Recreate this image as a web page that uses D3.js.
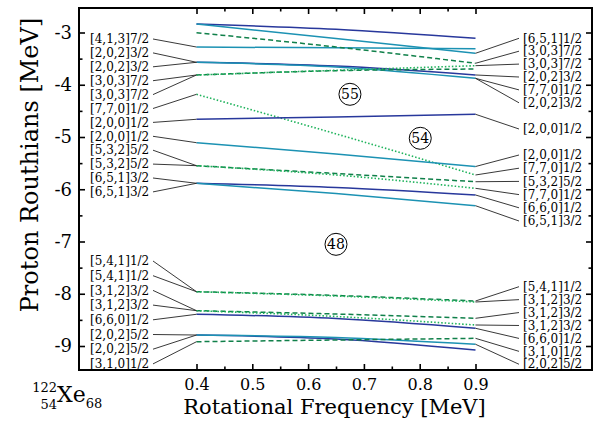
<!DOCTYPE html>
<html>
<head>
<meta charset="utf-8">
<script src="https://cdn.jsdelivr.net/npm/d3@7"></script>
<style>
  body { margin: 0; background: #fff; }
  text { font-family: 'DejaVu Serif', serif; fill: #000; }
</style>
</head>
<body>
<script>
// chart values
const omegaPts = [0.4, 0.65, 0.9];

const levelStyles = [
  'blue', 'teal', 'teal', 'dash', 'blue', 'teal', 'dash', 'dot',
  'dot', 'blue', 'teal', 'dash', 'dot', 'blue', 'teal',
  'dash', 'dot', 'dash', 'dot', 'blue', 'blue', 'teal', 'dash'
];

const levelValues = [
  [-2.837, -2.939, -3.111],
  [-2.837, -3.117, -3.398],
  [-3.278, -3.294, -3.309],
  [-3.004, -3.277, -3.589],
  [-3.570, -3.641, -3.813],
  [-3.570, -3.660, -3.877],
  [-3.813, -3.731, -3.699],
  [-3.813, -3.723, -3.635],
  [-4.183, -4.940, -5.727],
  [-4.661, -4.617, -4.565],
  [-5.109, -5.325, -5.565],
  [-5.549, -5.699, -5.856],
  [-5.549, -5.727, -5.982],
  [-5.886, -5.967, -6.110],
  [-5.886, -6.081, -6.315],
  [-7.961, -8.033, -8.139],
  [-7.961, -8.043, -8.158],
  [-8.324, -8.388, -8.470],
  [-8.324, -8.435, -8.598],
  [-8.393, -8.474, -8.661],
  [-8.790, -8.866, -9.077],
  [-8.790, -8.837, -8.967],
  [-8.918, -8.885, -8.853]
];

const leftLabels = [
  '[4,1,3]7/2', '[2,0,2]3/2', '[2,0,2]3/2', '[3,0,3]7/2', '[3,0,3]7/2', '[7,7,0]1/2',
  '[2,0,0]1/2', '[2,0,0]1/2', '[5,3,2]5/2', '[5,3,2]5/2', '[6,5,1]3/2', '[6,5,1]3/2',
  '[5,4,1]1/2', '[5,4,1]1/2', '[3,1,2]3/2', '[3,1,2]3/2', '[6,6,0]1/2', '[2,0,2]5/2',
  '[2,0,2]5/2', '[3,1,0]1/2'
];
const leftTargets = [2, 4, 5, 6, 7, 8, 9, 10, 11, 12, 13, 14, 15, 16, 17, 18, 19, 20, 21, 22];

const rightLabels = [
  '[6,5,1]1/2', '[3,0,3]7/2', '[3,0,3]7/2', '[2,0,2]3/2', '[7,7,0]1/2', '[2,0,2]3/2',
  '[2,0,0]1/2',
  '[2,0,0]1/2', '[7,7,0]1/2', '[5,3,2]5/2', '[7,7,0]1/2', '[6,6,0]1/2', '[6,5,1]3/2',
  '[5,4,1]1/2', '[3,1,2]3/2', '[3,1,2]3/2', '[3,1,2]3/2', '[6,6,0]1/2', '[3,1,0]1/2',
  '[2,0,2]5/2'
];
const rightTargets = [1, 3, 7, 4, 5, 5, 9, 10, 8, 11, 12, 13, 14, 15, 16, 17, 18, 19, 22, 21];

const shellGaps = ['55', '54', '48'];
const gapOmega = [0.675, 0.801, 0.650];
const gapEnergy = [-4.183, -5.025, -7.054];

const xTicks = [0.4, 0.5, 0.6, 0.7, 0.8, 0.9];
const xMinor = [0.45, 0.55, 0.65, 0.75, 0.85];
const yTicks = [-3, -4, -5, -6, -7, -8, -9];
const yMinor = [-3.5, -4.5, -5.5, -6.5, -7.5, -8.5];

// layout
const w = 598, h = 426;
const frame = { left: 79, right: 592, top: 8, bottom: 370 };

const colors = { blue: '#28389c', teal: '#1c92b3', dash: '#10804a', dot: '#1fb35c' };
const dashes = { blue: null, teal: null, dash: '5,3', dot: '1.5,2' };

// label slots: [start y px, step px, count]
const leftSlots = [[39, 13.9, 12], [261, 14.7, 8]];
const rightSlots = [[38.3, 12.9, 6], [129, 0, 1], [155, 13.2, 6], [286.7, 12.93, 7]];

function slotYs(slots) {
  const out = [];
  slots.forEach(([s, step, n]) => {
    for (let i = 0; i < n; i++) out.push(s + i * step);
  });
  return out;
}

const svg = d3.select('body').append('svg').attr('width', w).attr('height', h);

const x = d3.scaleLinear().domain([0.4, 0.9]).range([196.5, 475.5]);
const y = d3.scaleLinear().domain([-3, -9]).range([32.5, 346]);

// axes (ticks inward)
function tickAxis(axis, vals, size, fmt, pad) {
  return axis.tickValues(vals).tickSize(-size).tickPadding(pad || 6).tickFormat(fmt || '');
}

const axes = svg.append('g').attr('class', 'axes');

const xAxis = axes.append('g').attr('transform', `translate(0,${frame.bottom})`)
  .call(tickAxis(d3.axisBottom(x), xTicks, 6, d3.format('.1f'), 9));
axes.append('g').attr('transform', `translate(0,${frame.bottom})`)
  .call(tickAxis(d3.axisBottom(x), xMinor, 3.5));
axes.append('g').attr('transform', `translate(0,${frame.top})`)
  .call(tickAxis(d3.axisTop(x), xTicks, 6));
axes.append('g').attr('transform', `translate(0,${frame.top})`)
  .call(tickAxis(d3.axisTop(x), xMinor, 3.5));

const yAxis = axes.append('g').attr('transform', `translate(${frame.left},0)`)
  .call(tickAxis(d3.axisLeft(y), yTicks, 6, (d) => String(d), 7));
axes.append('g').attr('transform', `translate(${frame.left},0)`)
  .call(tickAxis(d3.axisLeft(y), yMinor, 3.5));
axes.append('g').attr('transform', `translate(${frame.right},0)`)
  .call(tickAxis(d3.axisRight(y), yTicks, 6));
axes.append('g').attr('transform', `translate(${frame.right},0)`)
  .call(tickAxis(d3.axisRight(y), yMinor, 3.5));

axes.selectAll('.domain').remove();
axes.selectAll('.tick line').attr('stroke', '#000').attr('stroke-width', 1.6);
axes.selectAll('.tick text')
  .style('font-family', "'DejaVu Serif', serif")
  .attr('fill', '#000');
xAxis.selectAll('.tick text').attr('font-size', 16);
yAxis.selectAll('.tick text').attr('font-size', 18);

svg.append('rect')
  .attr('x', frame.left).attr('y', frame.top)
  .attr('width', frame.right - frame.left).attr('height', frame.bottom - frame.top)
  .attr('fill', 'none').attr('stroke', '#000').attr('stroke-width', 2);

// levels
const line = d3.line()
  .x((d, i) => x(omegaPts[i]))
  .y((d) => y(d))
  .curve(d3.curveMonotoneX);

svg.append('g').selectAll('path')
  .data(levelValues)
  .join('path')
  .attr('d', (d) => line(d))
  .attr('fill', 'none')
  .attr('stroke', (d, i) => colors[levelStyles[i]])
  .attr('stroke-width', (d, i) => (levelStyles[i] === 'dot' ? 1.6 : 1.5))
  .attr('stroke-dasharray', (d, i) => dashes[levelStyles[i]]);

// labels + leader lines
const lys = slotYs(leftSlots);
const rys = slotYs(rightSlots);
const lab = svg.append('g');

leftLabels.forEach((t, i) => {
  const ly = lys[i];
  lab.append('text')
    .attr('x', 90).attr('y', ly).attr('dy', '0.35em')
    .attr('font-size', 12).text(t);
  lab.append('line')
    .attr('x1', 153).attr('y1', ly)
    .attr('x2', x(omegaPts[0])).attr('y2', y(levelValues[leftTargets[i]][0]))
    .attr('stroke', '#222').attr('stroke-width', 0.9);
});

rightLabels.forEach((t, i) => {
  const ry = rys[i];
  lab.append('text')
    .attr('x', 523).attr('y', ry).attr('dy', '0.35em')
    .attr('font-size', 12).text(t);
  lab.append('line')
    .attr('x1', x(omegaPts[2])).attr('y1', y(levelValues[rightTargets[i]][2]))
    .attr('x2', 519).attr('y2', ry)
    .attr('stroke', '#222').attr('stroke-width', 0.9);
});

// shell gap numbers
const gaps = svg.append('g').selectAll('g')
  .data(shellGaps)
  .join('g')
  .attr('transform', (d, i) => `translate(${x(gapOmega[i])},${y(gapEnergy[i])})`);
gaps.append('circle').attr('r', 11).attr('fill', '#fff').attr('stroke', '#000').attr('stroke-width', 1);
gaps.append('text').attr('text-anchor', 'middle').attr('dy', '0.36em')
  .attr('font-size', 14).text((d) => d);

// axis titles
svg.append('text')
  .attr('x', 334.5).attr('y', 414)
  .attr('text-anchor', 'middle').attr('font-size', 21)
  .text('Rotational Frequency [MeV]');

svg.append('text')
  .attr('transform', 'translate(38,165) rotate(-90)')
  .attr('text-anchor', 'middle').attr('font-size', 24)
  .text('Proton Routhians [MeV]');

// nucleus tag
const tag = svg.append('g');
tag.append('text').attr('x', 57).attr('y', 392).attr('text-anchor', 'end').attr('font-size', 13).text('122');
tag.append('text').attr('x', 57).attr('y', 409).attr('text-anchor', 'end').attr('font-size', 13).text('54');
const xe = tag.append('text').attr('x', 57).attr('y', 402).attr('font-size', 22);
xe.append('tspan').text('Xe');
xe.append('tspan').attr('font-size', 13).attr('dy', 6).text('68');
</script>
</body>
</html>
